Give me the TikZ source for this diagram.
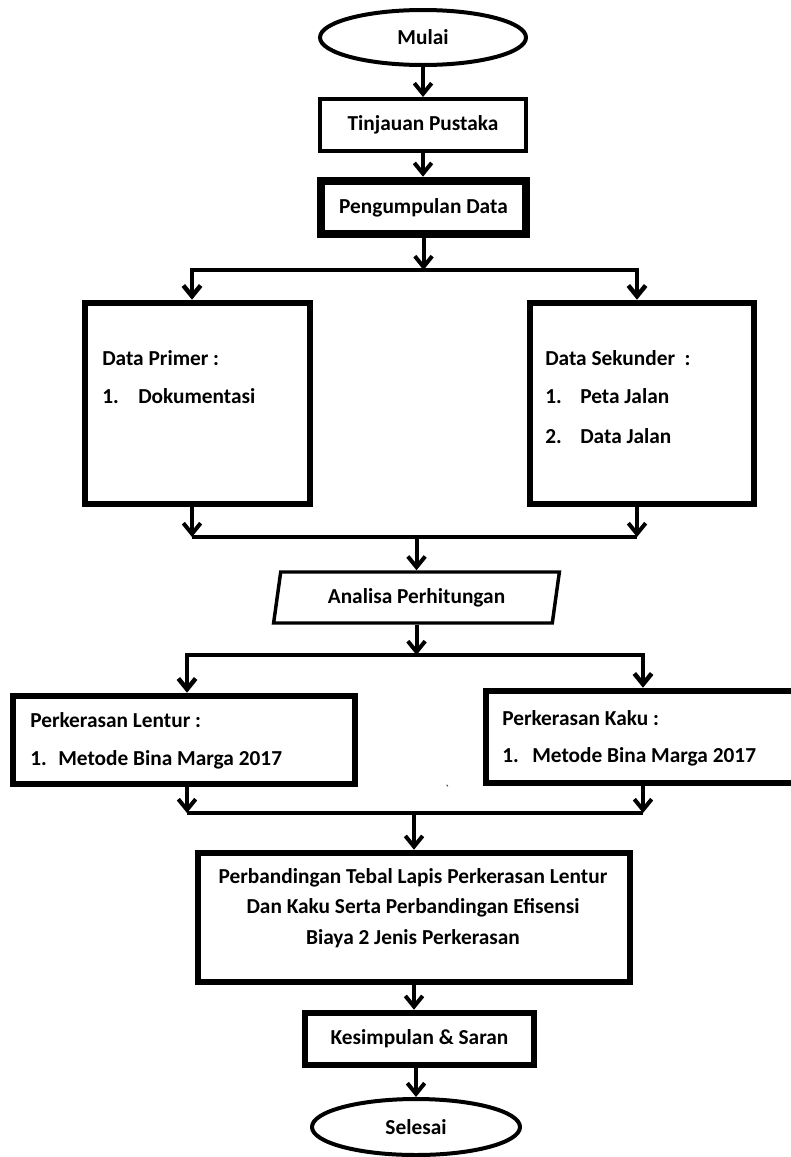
\documentclass[tikz,border=0pt]{standalone}
\usepackage{fontspec}
\setmainfont{Carlito}
\usetikzlibrary{arrows.meta,shapes.geometric}
\tikzset{
  txt/.style={font=\fontsize{16pt}{18pt}\selectfont\bfseries, text=black},
  thinbox/.style={draw, rectangle, line width=3pt, inner sep=0pt, txt},
  thickbox/.style={draw, rectangle, line width=4.9pt, inner sep=0pt, txt},
  oval/.style={draw, ellipse, line width=3pt, inner sep=0pt, txt},
  para/.style={draw, trapezium, trapezium left angle=76, trapezium right angle=104, trapezium stretches=true, line width=2.6pt, inner sep=0pt, txt},
  conn/.style={line width=3.4pt, line join=miter},
  arr/.style={line width=3pt, -{Straight Barb[length=8pt,width=13pt]}},
  arr2/.style={line width=3.4pt, line join=miter, {Straight Barb[length=8pt,width=13pt]}-{Straight Barb[length=8pt,width=13pt]}},
  lbl/.style={txt, inner sep=0pt, anchor=base west},
  clbl/.style={txt, inner sep=0pt, anchor=base}
}
\begin{document}
\begin{tikzpicture}[x=0.75pt,y=-0.75pt]
\useasboundingbox (0,0) rectangle (791,1157);
\fill[white] (0,0) rectangle (791,1157);

% nodes
\node[oval, minimum width=154.5pt, minimum height=41.25pt] (mulai) at (423,37.5) {Mulai};
\node[thinbox, minimum width=154.5pt, minimum height=39pt] (tinjau) at (423,125) {Tinjauan Pustaka};
\node[thickbox, line width=6.4pt, minimum width=153.75pt, minimum height=39.75pt] (kumpul) at (423.5,207.5) {Pengumpulan Data};

\node[thickbox, minimum width=168.75pt, minimum height=150.75pt] (primer) at (197.5,403.5) {};
\node[thickbox, minimum width=168pt, minimum height=150.75pt] (sekunder) at (642,403.5) {};
\node[lbl] (primerT) at (102,365) {Data Primer :};
\node[lbl] (primer1) at (102,403) {\makebox[27pt][l]{1.}Dokumentasi};
\node[lbl] (sekT) at (545,365) {Data Sekunder\ \ :};
\node[lbl] (sek1) at (545,403) {\makebox[26.25pt][l]{1.}Peta Jalan};
\node[lbl] (sek2) at (545,443) {\makebox[26.25pt][l]{2.}Data Jalan};

\node[para, minimum width=214.5pt, minimum height=38.25pt] (ana) at (416.5,597.5) {Analisa Perhitungan};

\node[thickbox, minimum width=256.5pt, minimum height=66pt] (lentur) at (184,740) {};
\node[thickbox, minimum width=233.25pt, minimum height=69pt] (kaku) at (641.5,737) {};
\node[lbl] (lenturT) at (30,727) {Perkerasan Lentur :};
\node[lbl] (lentur1) at (30,765) {\makebox[21pt][l]{1.}Metode Bina Marga 2017};
\node[lbl] (kakuT) at (502,725) {Perkerasan Kaku :};
\node[lbl] (kaku1) at (502,762) {\makebox[22.5pt][l]{1.}Metode Bina Marga 2017};
\node[inner sep=0pt, font=\fontsize{9pt}{9pt}\selectfont] (tick) at (447,789) {\textasciigrave};

\node[thickbox, minimum width=324pt, minimum height=96.75pt] (banding) at (414,917.5) {};
\node[clbl] (band1) at (413,883) {Perbandingan Tebal Lapis Perkerasan Lentur};
\node[clbl] (band2) at (413,913) {Dan Kaku Serta Perbandingan Efisensi};
\node[clbl] (band3) at (413,944) {Biaya 2 Jenis Perkerasan};

\node[thickbox, minimum width=171.75pt, minimum height=39pt] (simpul) at (419.5,1039) {Kesimpulan \& Saran};
\node[oval, minimum width=156pt, minimum height=42pt] (selesai) at (416,1127) {Selesai};

% junction coordinates
\coordinate (sL) at (192,270);
\coordinate (sR) at (637,270);
\coordinate (mL) at (192,537);
\coordinate (mR) at (637,537);
\coordinate (s2L) at (187,655);
\coordinate (s2R) at (643,655);
\coordinate (m2L) at (187,813);
\coordinate (m2R) at (643,813);

% connectors
\draw[arr] (mulai.south) -- (mulai.south |- tinjau.north);
\draw[arr] (tinjau.south) -- (tinjau.south |- kumpul.north);
\draw[arr] (kumpul.south) -- (kumpul.south |- sL);
\draw[arr2] (sL |- primer.north) -- (sL) -- (sR) -- (sR |- sekunder.north);

\draw[conn] (mL) -- (mR);
\draw[arr] (mL |- primer.south) -- (mL);
\draw[arr] (mR |- sekunder.south) -- (mR);
\draw[arr] (ana.north |- mL) -- (ana.north);

\draw[arr] (ana.south) -- (ana.south |- s2L);
\draw[arr2] (s2L |- lentur.north) -- (s2L) -- (s2R) -- (s2R |- kaku.north);

\draw[conn] (m2L) -- (m2R);
\draw[arr] (m2L |- lentur.south) -- (m2L);
\draw[arr] (m2R |- kaku.south) -- (m2R);
\draw[arr] (banding.north |- m2L) -- (banding.north);

\draw[arr] (banding.south) -- (banding.south |- simpul.north);
\draw[arr] (selesai.north |- simpul.south) -- (selesai.north);
\end{tikzpicture}
\end{document}
